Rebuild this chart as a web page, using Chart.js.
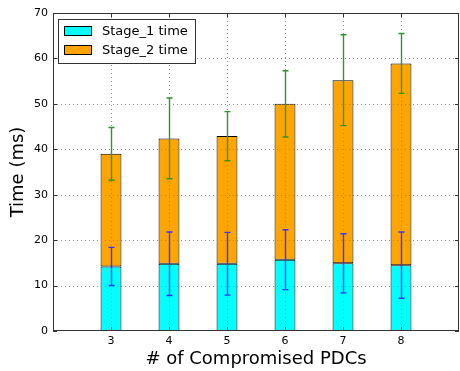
<!DOCTYPE html>
<html lang="en">
<head>
<meta charset="UTF-8" />
<title>Stage times</title>
<script src="https://cdn.jsdelivr.net/npm/chart.js@4.4.1/dist/chart.umd.min.js"></script>
<style>
  body { margin: 0; background: #fff; }
  canvas { display: block; }
</style>
</head>
<body>
<canvas id="timeChart" width="460" height="371"></canvas>
<script>
  // data
  const pdcCounts = [3, 4, 5, 6, 7, 8];
  const stage1Time = [14.2, 14.8, 14.8, 15.7, 14.9, 14.5];
  const stage2Time = [24.8, 27.6, 28.1, 34.3, 40.3, 44.4];
  const stage1Err = [4.2, 7.0, 6.9, 6.6, 6.5, 7.3];
  const stage2Err = [5.8, 8.9, 5.4, 7.3, 10.0, 6.6];
  const yTicks = [0, 10, 20, 30, 40, 50, 60, 70];
  const seriesNames = ['Stage_1 time', 'Stage_2 time'];
  const seriesColors = ['#00ffff', '#ffa500'];

  const FONT = "'DejaVu Sans', sans-serif";

  // grid on top of bars, error bars, frame, inward ticks, legend
  const overlay = {
    id: 'overlay',
    afterDatasetsDraw(chart) {
      const { ctx, chartArea: a, scales: { x, y } } = chart;
      ctx.save();

      // dotted grid
      ctx.strokeStyle = '#8a8a8a';
      ctx.lineWidth = 1;
      ctx.setLineDash([1, 3]);
      ctx.beginPath();
      pdcCounts.forEach((v) => {
        const px = Math.round(x.getPixelForValue(v)) + 0.5;
        ctx.moveTo(px, a.top); ctx.lineTo(px, a.bottom);
      });
      yTicks.slice(1, -1).forEach((v) => {
        const py = Math.round(y.getPixelForValue(v)) + 0.5;
        ctx.moveTo(a.left, py); ctx.lineTo(a.right, py);
      });
      ctx.stroke();
      ctx.setLineDash([]);

      // error bars
      function errBar(px, lo, hi, color) {
        const y1 = y.getPixelForValue(lo), y2 = y.getPixelForValue(hi);
        ctx.strokeStyle = color;
        ctx.lineWidth = 1.4;
        ctx.beginPath();
        ctx.moveTo(px, y1); ctx.lineTo(px, y2);
        ctx.moveTo(px - 3, y1); ctx.lineTo(px + 3, y1);
        ctx.moveTo(px - 3, y2); ctx.lineTo(px + 3, y2);
        ctx.stroke();
      }
      pdcCounts.forEach((v, i) => {
        const px = Math.round(x.getPixelForValue(v)) + 0.5;
        errBar(px, stage1Time[i] - stage1Err[i], stage1Time[i] + stage1Err[i], '#3535ff');
        const top = stage1Time[i] + stage2Time[i];
        errBar(px, top - stage2Err[i], top + stage2Err[i], '#2e962e');
      });
      ctx.lineWidth = 1;

      // frame
      ctx.strokeStyle = '#333';
      ctx.strokeRect(a.left + 0.5, a.top + 0.5, a.right - a.left - 1, a.bottom - a.top - 1);

      // inward tick marks
      ctx.beginPath();
      pdcCounts.forEach((v) => {
        const px = Math.round(x.getPixelForValue(v)) + 0.5;
        ctx.moveTo(px, a.bottom); ctx.lineTo(px, a.bottom - 4);
        ctx.moveTo(px, a.top); ctx.lineTo(px, a.top + 4);
      });
      yTicks.forEach((v) => {
        const py = Math.round(y.getPixelForValue(v)) + 0.5;
        ctx.moveTo(a.left, py); ctx.lineTo(a.left + 4, py);
        ctx.moveTo(a.right, py); ctx.lineTo(a.right - 4, py);
      });
      ctx.stroke();

      // legend
      const lx = a.left + 5, ly = a.top + 6;
      ctx.fillStyle = '#fff';
      ctx.fillRect(lx, ly, 137, 44);
      ctx.strokeStyle = '#333';
      ctx.strokeRect(lx + 0.5, ly + 0.5, 137, 44);
      ctx.font = '13px ' + FONT;
      ctx.textBaseline = 'middle';
      seriesNames.forEach((name, i) => {
        const cy = ly + 12 + i * 19;
        ctx.fillStyle = seriesColors[i];
        ctx.fillRect(lx + 6, cy - 4.5, 27, 9);
        ctx.strokeStyle = '#000';
        ctx.strokeRect(lx + 6.5, cy - 4.5, 27, 9);
        ctx.fillStyle = '#000';
        ctx.fillText(name, lx + 44, cy + 0.5);
      });

      ctx.restore();
    }
  };

  const ctx = document.getElementById('timeChart').getContext('2d');
  new Chart(ctx, {
    type: 'bar',
    data: {
      datasets: [
        {
          label: seriesNames[0],
          data: pdcCounts.map((v, i) => ({ x: v, y: stage1Time[i] })),
          backgroundColor: seriesColors[0],
          borderColor: '#000',
          borderWidth: 1,
          borderSkipped: false
        },
        {
          label: seriesNames[1],
          data: pdcCounts.map((v, i) => ({ x: v, y: stage2Time[i] })),
          backgroundColor: seriesColors[1],
          borderColor: '#000',
          borderWidth: 1,
          borderSkipped: false
        }
      ]
    },
    options: {
      responsive: false,
      animation: false,
      barPercentage: 0.36,
      categoryPercentage: 1,
      layout: { padding: { top: 13, right: 1, left: 0, bottom: 0 } },
      plugins: { legend: { display: false }, tooltip: { enabled: false } },
      scales: {
        x: {
          type: 'linear',
          min: 2,
          max: 9,
          offset: false,
          stacked: true,
          afterBuildTicks: (s) => { s.ticks = pdcCounts.map((v) => ({ value: v })); },
          afterFit: (s) => { s.height = 40; },
          grid: { display: false, drawTicks: false, offset: false },
          border: { display: false },
          ticks: { color: '#000', font: { family: FONT, size: 11 }, padding: 4, maxRotation: 0 },
          title: {
            display: true,
            text: '# of Compromised PDCs',
            color: '#000',
            font: { family: FONT, size: 18, lineHeight: 1.2 },
            padding: { top: 0, bottom: 1 }
          }
        },
        y: {
          min: 0,
          max: 70,
          stacked: true,
          afterBuildTicks: (s) => { s.ticks = yTicks.map((v) => ({ value: v })); },
          afterFit: (s) => { s.width = 53; },
          grid: { display: false, drawTicks: false },
          border: { display: false },
          ticks: { color: '#000', font: { family: FONT, size: 11 }, padding: 5 },
          title: {
            display: true,
            text: 'Time (ms)',
            color: '#000',
            font: { family: FONT, size: 18, lineHeight: 1.2 },
            padding: { top: 8, bottom: 0 }
          }
        }
      }
    },
    plugins: [overlay]
  });
</script>
</body>
</html>
